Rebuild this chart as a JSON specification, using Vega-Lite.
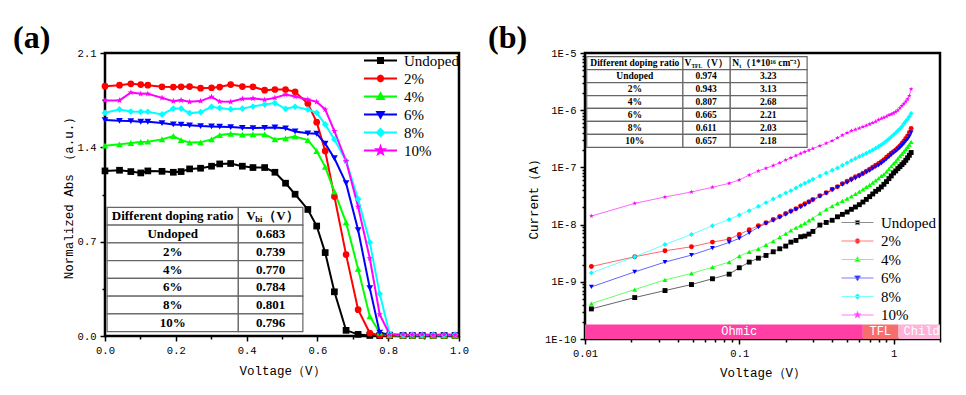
{
"$schema": "https://vega.github.io/schema/vega-lite/v6.json",
"background": "white",
"padding": {"left": 11, "top": 20, "right": 5, "bottom": 5},
"spacing": 126,
"bounds": "flush",
"datasets": {
"a": [
{"V":0,"Undoped":1.225,"2%":1.854,"4%":1.412,"6%":1.602,"8%":1.656,"10%":1.748},
{"V":0.041,"Undoped":1.23,"2%":1.861,"4%":1.422,"6%":1.597,"8%":1.681,"10%":1.748},
{"V":0.073,"Undoped":1.22,"2%":1.871,"4%":1.432,"6%":1.595,"8%":1.666,"10%":1.807},
{"V":0.101,"Undoped":1.21,"2%":1.866,"4%":1.44,"6%":1.59,"8%":1.664,"10%":1.797},
{"V":0.121,"Undoped":1.225,"2%":1.861,"4%":1.442,"6%":1.59,"8%":1.664,"10%":1.797},
{"V":0.161,"Undoped":1.222,"2%":1.849,"4%":1.459,"6%":1.58,"8%":1.644,"10%":1.767},
{"V":0.193,"Undoped":1.215,"2%":1.847,"4%":1.484,"6%":1.57,"8%":1.688,"10%":1.743},
{"V":0.215,"Undoped":1.22,"2%":1.849,"4%":1.454,"6%":1.568,"8%":1.688,"10%":1.75},
{"V":0.239,"Undoped":1.24,"2%":1.851,"4%":1.435,"6%":1.563,"8%":1.654,"10%":1.738},
{"V":0.27,"Undoped":1.245,"2%":1.839,"4%":1.437,"6%":1.558,"8%":1.661,"10%":1.743},
{"V":0.301,"Undoped":1.26,"2%":1.842,"4%":1.459,"6%":1.555,"8%":1.701,"10%":1.775},
{"V":0.324,"Undoped":1.277,"2%":1.847,"4%":1.491,"6%":1.553,"8%":1.691,"10%":1.74},
{"V":0.355,"Undoped":1.28,"2%":1.866,"4%":1.501,"6%":1.55,"8%":1.683,"10%":1.738},
{"V":0.388,"Undoped":1.26,"2%":1.851,"4%":1.494,"6%":1.545,"8%":1.688,"10%":1.76},
{"V":0.418,"Undoped":1.25,"2%":1.849,"4%":1.496,"6%":1.543,"8%":1.703,"10%":1.763},
{"V":0.451,"Undoped":1.25,"2%":1.824,"4%":1.496,"6%":1.545,"8%":1.718,"10%":1.753},
{"V":0.48,"Undoped":1.215,"2%":1.829,"4%":1.459,"6%":1.548,"8%":1.728,"10%":1.767},
{"V":0.51,"Undoped":1.134,"2%":1.829,"4%":1.467,"6%":1.541,"8%":1.686,"10%":1.792},
{"V":0.537,"Undoped":1.052,"2%":1.812,"4%":1.481,"6%":1.518,"8%":1.701,"10%":1.777},
{"V":0.573,"Undoped":0.939,"2%":1.725,"4%":1.454,"6%":1.504,"8%":1.681,"10%":1.755},
{"V":0.598,"Undoped":0.816,"2%":1.587,"4%":1.373,"6%":1.501,"8%":1.656,"10%":1.738},
{"V":0.622,"Undoped":0.619,"2%":1.373,"4%":1.255,"6%":1.427,"8%":1.57,"10%":1.681},
{"V":0.648,"Undoped":0.328,"2%":1.035,"4%":1.072,"6%":1.319,"8%":1.459,"10%":1.521},
{"V":0.681,"Undoped":0.042,"2%":0.604,"4%":0.843,"6%":1.134,"8%":1.299,"10%":1.299},
{"V":0.715,"Undoped":0.012,"2%":0.195,"4%":0.498,"6%":0.786,"8%":1.016,"10%":0.959},
{"V":0.748,"Undoped":0.004,"2%":0.022,"4%":0.145,"6%":0.355,"8%":0.695,"10%":0.577},
{"V":0.776,"Undoped":0.003,"2%":0.005,"4%":0.025,"6%":0.025,"8%":0.313,"10%":0.16},
{"V":0.804,"Undoped":0.003,"2%":0.003,"4%":0.005,"6%":0.01,"8%":0.017,"10%":0.012},
{"V":0.842,"Undoped":0.003,"2%":0.003,"4%":0.003,"6%":0.004,"8%":0.008,"10%":0.011},
{"V":0.868,"Undoped":0.003,"2%":0.003,"4%":0.003,"6%":0.004,"8%":0.011,"10%":0.008},
{"V":0.896,"Undoped":0.003,"2%":0.003,"4%":0.003,"6%":0.004,"8%":0.008,"10%":0.011},
{"V":0.927,"Undoped":0.003,"2%":0.003,"4%":0.003,"6%":0.004,"8%":0.011,"10%":0.008},
{"V":0.958,"Undoped":0.003,"2%":0.003,"4%":0.003,"6%":0.004,"8%":0.008,"10%":0.011},
{"V":0.989,"Undoped":0.003,"2%":0.003,"4%":0.003,"6%":0.004,"8%":0.011,"10%":0.009}
],
"b": [
{"V":0.011,"Undoped":3.36e-10,"2%":1.85e-9,"4%":4.16e-10,"6%":8.15e-10,"8%":1.43e-9,"10%":1.41e-8},
{"V":0.021,"Undoped":5.30e-10,"2%":2.74e-9,"4%":7.32e-10,"6%":1.49e-9,"8%":2.74e-9,"10%":2.35e-8},
{"V":0.033,"Undoped":7.03e-10,"2%":3.48e-9,"4%":1.08e-9,"6%":2.21e-9,"8%":4.50e-9,"10%":3.04e-8},
{"V":0.049,"Undoped":8.96e-10,"2%":4.10e-9,"4%":1.40e-9,"6%":2.93e-9,"8%":6.73e-9,"10%":3.72e-8},
{"V":0.067,"Undoped":1.13e-9,"2%":4.94e-9,"4%":1.80e-9,"6%":3.88e-9,"8%":9.55e-9,"10%":4.49e-8},
{"V":0.086,"Undoped":1.36e-9,"2%":5.58e-9,"4%":2.21e-9,"6%":4.88e-9,"8%":1.23e-8,"10%":5.27e-8},
{"V":0.1,"Undoped":1.76e-9,"2%":6.73e-9,"4%":2.81e-9,"6%":5.73e-9,"8%":1.47e-8,"10%":6.03e-8},
{"V":0.116,"Undoped":2.21e-9,"2%":8.13e-9,"4%":3.35e-9,"6%":7.20e-9,"8%":1.75e-8,"10%":7.38e-8},
{"V":0.133,"Undoped":2.59e-9,"2%":9.55e-9,"4%":3.78e-9,"6%":9.05e-9,"8%":2.08e-8,"10%":8.67e-8},
{"V":0.149,"Undoped":2.89e-9,"2%":1.08e-8,"4%":4.44e-9,"6%":1.04e-8,"8%":2.42e-8,"10%":9.66e-8},
{"V":0.166,"Undoped":3.35e-9,"2%":1.23e-8,"4%":5.15e-9,"6%":1.17e-8,"8%":2.80e-8,"10%":1.08e-7},
{"V":0.183,"Undoped":3.78e-9,"2%":1.39e-8,"4%":6.05e-9,"6%":1.32e-8,"8%":3.16e-8,"10%":1.20e-7},
{"V":0.2,"Undoped":4.21e-9,"2%":1.57e-8,"4%":6.92e-9,"6%":1.49e-8,"8%":3.57e-8,"10%":1.35e-7},
{"V":0.216,"Undoped":4.94e-9,"2%":1.73e-8,"4%":7.91e-9,"6%":1.66e-8,"8%":3.92e-8,"10%":1.47e-7},
{"V":0.233,"Undoped":5.29e-9,"2%":1.90e-8,"4%":8.81e-9,"6%":1.82e-8,"8%":4.37e-8,"10%":1.61e-7},
{"V":0.25,"Undoped":6.13e-9,"2%":2.11e-8,"4%":9.68e-9,"6%":2.03e-8,"8%":4.86e-8,"10%":1.75e-7},
{"V":0.266,"Undoped":6.30e-9,"2%":2.32e-8,"4%":1.06e-8,"6%":2.20e-8,"8%":5.27e-8,"10%":1.87e-7},
{"V":0.283,"Undoped":6.83e-9,"2%":2.52e-8,"4%":1.19e-8,"6%":2.42e-8,"8%":5.71e-8,"10%":2.00e-7},
{"V":0.3,"Undoped":7.60e-9,"2%":2.76e-8,"4%":1.28e-8,"6%":2.66e-8,"8%":6.20e-8,"10%":2.14e-7},
{"V":0.333,"Undoped":9.81e-9,"2%":3.21e-8,"4%":1.57e-8,"6%":3.08e-8,"8%":7.09e-8,"10%":2.38e-7},
{"V":0.366,"Undoped":1.09e-8,"2%":3.62e-8,"4%":1.85e-8,"6%":3.52e-8,"8%":8.00e-8,"10%":2.65e-7},
{"V":0.4,"Undoped":1.19e-8,"2%":4.14e-8,"4%":2.11e-8,"6%":4.03e-8,"8%":8.91e-8,"10%":2.91e-7},
{"V":0.433,"Undoped":1.37e-8,"2%":4.61e-8,"4%":2.35e-8,"6%":4.49e-8,"8%":9.79e-8,"10%":3.28e-7},
{"V":0.466,"Undoped":1.51e-8,"2%":5.20e-8,"4%":2.59e-8,"6%":4.99e-8,"8%":1.09e-7,"10%":3.66e-7},
{"V":0.5,"Undoped":1.66e-8,"2%":5.71e-8,"4%":2.84e-8,"6%":5.42e-8,"8%":1.20e-7,"10%":4.02e-7},
{"V":0.533,"Undoped":1.85e-8,"2%":6.28e-8,"4%":3.12e-8,"6%":5.95e-8,"8%":1.32e-7,"10%":4.36e-7},
{"V":0.566,"Undoped":2.03e-8,"2%":6.90e-8,"4%":3.43e-8,"6%":6.45e-8,"8%":1.43e-7,"10%":4.60e-7},
{"V":0.6,"Undoped":2.23e-8,"2%":7.28e-8,"4%":3.77e-8,"6%":6.99e-8,"8%":1.55e-7,"10%":4.85e-7},
{"V":0.633,"Undoped":2.48e-8,"2%":7.89e-8,"4%":4.14e-8,"6%":7.58e-8,"8%":1.65e-7,"10%":5.12e-7},
{"V":0.666,"Undoped":2.76e-8,"2%":8.55e-8,"4%":4.55e-8,"6%":8.22e-8,"8%":1.77e-7,"10%":5.40e-7},
{"V":0.7,"Undoped":3.08e-8,"2%":9.27e-8,"4%":4.93e-8,"6%":8.79e-8,"8%":1.89e-7,"10%":5.70e-7},
{"V":0.733,"Undoped":3.43e-8,"2%":1.01e-7,"4%":5.42e-8,"6%":9.53e-8,"8%":2.02e-7,"10%":6.01e-7},
{"V":0.766,"Undoped":3.82e-8,"2%":1.09e-7,"4%":5.95e-8,"6%":1.02e-7,"8%":2.16e-7,"10%":6.35e-7},
{"V":0.8,"Undoped":4.14e-8,"2%":1.17e-7,"4%":6.45e-8,"6%":1.09e-7,"8%":2.32e-7,"10%":6.79e-7},
{"V":0.833,"Undoped":4.55e-8,"2%":1.26e-7,"4%":7.09e-8,"6%":1.18e-7,"8%":2.48e-7,"10%":7.16e-7},
{"V":0.866,"Undoped":5.07e-8,"2%":1.37e-7,"4%":7.58e-8,"6%":1.28e-7,"8%":2.68e-7,"10%":7.46e-7},
{"V":0.9,"Undoped":5.64e-8,"2%":1.51e-7,"4%":8.44e-8,"6%":1.39e-7,"8%":2.91e-7,"10%":7.77e-7},
{"V":0.933,"Undoped":6.36e-8,"2%":1.63e-7,"4%":9.40e-8,"6%":1.51e-7,"8%":3.15e-7,"10%":8.20e-7},
{"V":0.966,"Undoped":7.09e-8,"2%":1.77e-7,"4%":1.05e-7,"6%":1.65e-7,"8%":3.42e-7,"10%":8.53e-7},
{"V":1.0,"Undoped":8.00e-8,"2%":1.89e-7,"4%":1.17e-7,"6%":1.79e-7,"8%":3.71e-7,"10%":8.88e-7},
{"V":1.033,"Undoped":8.67e-8,"2%":2.02e-7,"4%":1.28e-7,"6%":1.92e-7,"8%":4.02e-7,"10%":9.38e-7},
{"V":1.066,"Undoped":9.53e-8,"2%":2.19e-7,"4%":1.43e-7,"6%":2.08e-7,"8%":4.36e-7,"10%":1.00e-6},
{"V":1.1,"Undoped":1.03e-7,"2%":2.38e-7,"4%":1.57e-7,"6%":2.22e-7,"8%":4.72e-7,"10%":1.09e-6},
{"V":1.133,"Undoped":1.12e-7,"2%":2.61e-7,"4%":1.72e-7,"6%":2.41e-7,"8%":5.19e-7,"10%":1.19e-6},
{"V":1.166,"Undoped":1.21e-7,"2%":2.87e-7,"4%":1.89e-7,"6%":2.61e-7,"8%":5.78e-7,"10%":1.30e-6},
{"V":1.2,"Undoped":1.33e-7,"2%":3.20e-7,"4%":2.08e-7,"6%":2.87e-7,"8%":6.43e-7,"10%":1.42e-6},
{"V":1.233,"Undoped":1.47e-7,"2%":3.56e-7,"4%":2.28e-7,"6%":3.11e-7,"8%":6.97e-7,"10%":1.56e-6},
{"V":1.266,"Undoped":1.63e-7,"2%":4.07e-7,"4%":2.51e-7,"6%":3.47e-7,"8%":7.77e-7,"10%":1.79e-6},
{"V":1.3,"Undoped":1.82e-7,"2%":4.79e-7,"4%":2.80e-7,"6%":4.07e-7,"8%":8.77e-7,"10%":2.34e-6}
],
"tabA": [
{"r":"h","c1":"Different doping ratio","c2":""},
{"r":"Undoped","c1":"Undoped","c2":"0.683"},
{"r":"2%","c1":"2%","c2":"0.739"},
{"r":"4%","c1":"4%","c2":"0.770"},
{"r":"6%","c1":"6%","c2":"0.784"},
{"r":"8%","c1":"8%","c2":"0.801"},
{"r":"10%","c1":"10%","c2":"0.796"}
],
"tabB": [
{"r":"h","c1":"Different doping ratio","c2":"","c3":""},
{"r":"Undoped","c1":"Undoped","c2":"0.974","c3":"3.23"},
{"r":"2%","c1":"2%","c2":"0.943","c3":"3.13"},
{"r":"4%","c1":"4%","c2":"0.807","c3":"2.68"},
{"r":"6%","c1":"6%","c2":"0.665","c3":"2.21"},
{"r":"8%","c1":"8%","c2":"0.611","c3":"2.03"},
{"r":"10%","c1":"10%","c2":"0.657","c3":"2.18"}
],
"bands": [
{"region":"Ohmic","x0":0.01,"x1":0.632,"lx":0.1},
{"region":"TFL","x0":0.632,"x1":1.077,"lx":0.82},
{"region":"Child","x0":1.077,"x1":2,"lx":1.52}
]
},
"hconcat": [
{
"width": 354, "height": 283,
"title": {"text": "(a)", "anchor": "start", "frame": "group", "dx": -92, "offset": -32, "baseline": "alphabetic", "font": "Liberation Serif", "fontSize": 32, "fontWeight": "bold", "color": "black"},
"layer": [
{
"layer": [
{
"data": {"name": "a"},
"transform": [{"fold": ["Undoped","2%","4%","6%","8%","10%"], "as": ["series","abs"]}],
"mark": {"type": "line", "strokeWidth": 2},
"encoding": {
"x": {"field": "V", "type": "quantitative", "scale": {"domain": [0,1], "nice": false}, "axis": {"title": "Voltage（V）", "orient": "bottom", "values": [0,0.2,0.4,0.6,0.8,1.0], "format": ".1f", "titlePadding": 9}},
"y": {"field": "abs", "type": "quantitative", "scale": {"domain": [0,2.1], "nice": false}, "axis": {"title": "Normalized Abs （a.u.）", "orient": "left", "values": [0,0.7,1.4,2.1], "format": ".1f", "titlePadding": 2}},
"color": {"field": "series", "type": "nominal", "scale": {"domain": ["Undoped","2%","4%","6%","8%","10%"], "range": ["#000000","#ff0000","#00ff00","#0000ff","#00ffff","#ff00ff"]}, "legend": null}
}
},
{
"data": {"values": []},
"mark": {"type": "point"},
"encoding": {
"x": {"field": "V", "type": "quantitative", "scale": {"domain": [0,1], "nice": false}, "axis": {"orient": "bottom", "values": [0.1,0.3,0.5,0.7,0.9], "labels": false, "title": null, "tickSize": 3}},
"y": {"field": "abs", "type": "quantitative", "scale": {"domain": [0,2.1], "nice": false}, "axis": {"orient": "left", "values": [0.35,1.05,1.75], "labels": false, "title": null, "tickSize": 3}}
}
},
{
"data": {"name": "a"},
"transform": [{"fold": ["Undoped","2%","4%","6%","8%","10%"], "as": ["series","abs"]}],
"mark": {"type": "point", "filled": true, "opacity": 1, "size": 45},
"encoding": {
"x": {"field": "V", "type": "quantitative", "scale": {"domain": [0,1], "nice": false}, "axis": null},
"y": {"field": "abs", "type": "quantitative", "scale": {"domain": [0,2.1], "nice": false}, "axis": null},
"color": {"field": "series", "type": "nominal", "scale": {"domain": ["Undoped","2%","4%","6%","8%","10%"], "range": ["#000000","#ff0000","#00ff00","#0000ff","#00ffff","#ff00ff"]}, "legend": null},
"shape": {"field": "series", "type": "nominal", "scale": {"domain": ["Undoped","2%","4%","6%","8%","10%"], "range": ["square","circle","triangle-up","triangle-down","diamond","M0,-1L0.235,-0.324L0.951,-0.309L0.38,0.124L0.588,0.809L0,0.4L-0.588,0.809L-0.38,0.124L-0.951,-0.309L-0.235,-0.324Z"]}, "legend": null}
}
},
{
"data": {"values": []},
"mark": {"type": "point", "filled": true, "opacity": 1, "strokeWidth": 2},
"encoding": {
"shape": {"field": "series", "type": "nominal", "scale": {"domain": ["Undoped","2%","4%","6%","8%","10%"], "range": ["M-1,0H1M-0.15,-0.15H0.15V0.15H-0.15Z","M-1,0H1M-0.17,0L-0.12,-0.12L0,-0.17L0.12,-0.12L0.17,0L0.12,0.12L0,0.17L-0.12,0.12Z","M-1,0H1M0,-0.2L0.2,0.15H-0.2Z","M-1,0H1M0,0.2L0.2,-0.15H-0.2Z","M-1,0H1M0,-0.22L0.22,0L0,0.22L-0.22,0Z","M-1,0H1M0,-0.24L0.056,-0.078L0.228,-0.074L0.091,0.03L0.141,0.194L0,0.096L-0.141,0.194L-0.091,0.03L-0.228,-0.074L-0.056,-0.078Z"]}, "legend": {"title": null, "orient": "none", "legendX": 258, "legendY": 0, "symbolSize": 1089, "symbolStrokeWidth": 2, "clipHeight": 15, "labelFont": "Liberation Serif", "labelFontSize": 15, "labelColor": "black", "labelOffset": 6, "rowPadding": 2, "padding": 0, "symbolOpacity": 1}},
"fill": {"field": "series", "type": "nominal", "scale": {"domain": ["Undoped","2%","4%","6%","8%","10%"], "range": ["#000000","#ff0000","#00ff00","#0000ff","#00ffff","#ff00ff"]}, "legend": {"title": null, "orient": "none", "legendX": 258, "legendY": 0, "symbolSize": 1089, "symbolStrokeWidth": 2, "clipHeight": 15, "labelFont": "Liberation Serif", "labelFontSize": 15, "labelColor": "black", "labelOffset": 6, "rowPadding": 2, "padding": 0, "symbolOpacity": 1}},
"stroke": {"field": "series", "type": "nominal", "scale": {"domain": ["Undoped","2%","4%","6%","8%","10%"], "range": ["#000000","#ff0000","#00ff00","#0000ff","#00ffff","#ff00ff"]}, "legend": {"title": null, "orient": "none", "legendX": 258, "legendY": 0, "symbolSize": 1089, "symbolStrokeWidth": 2, "clipHeight": 15, "labelFont": "Liberation Serif", "labelFontSize": 15, "labelColor": "black", "labelOffset": 6, "rowPadding": 2, "padding": 0, "symbolOpacity": 1}}
}
}
],
"resolve": {"scale": {"shape": "independent", "fill": "independent", "stroke": "independent"}, "legend": {"shape": "independent", "fill": "independent", "stroke": "independent"}, "axis": {"x": "independent", "y": "independent"}}
},
{
"data": {"name": "tabA"},
"encoding": {
"y": {"field": "r", "type": "nominal", "scale": {"domain": ["h","Undoped","2%","4%","6%","8%","10%"], "range": [154.3, 278.7], "paddingInner": 0, "paddingOuter": 0}, "axis": null}
},
"layer": [
{"mark": {"type": "rect", "fill": "white", "stroke": "#666666", "strokeWidth": 1.2}, "encoding": {"x": {"datum": 0.006, "type": "quantitative", "scale": {"domain": [0,1], "nice": false}, "axis": null}, "x2": {"datum": 0.3766}}},
{"mark": {"type": "rect", "fill": "white", "stroke": "#666666", "strokeWidth": 1.2}, "encoding": {"x": {"datum": 0.3766, "type": "quantitative", "scale": {"domain": [0,1], "nice": false}, "axis": null}, "x2": {"datum": 0.559}}},
{"mark": {"type": "text", "font": "Liberation Serif", "fontWeight": "bold", "fontSize": 13, "color": "black", "baseline": "middle"}, "encoding": {"x": {"datum": 0.1912, "type": "quantitative", "scale": {"domain": [0,1], "nice": false}, "axis": null}, "text": {"field": "c1"}}},
{"mark": {"type": "text", "font": "Liberation Serif", "fontWeight": "bold", "fontSize": 13, "color": "black", "baseline": "middle"}, "encoding": {"x": {"datum": 0.468, "type": "quantitative", "scale": {"domain": [0,1], "nice": false}, "axis": null}, "text": {"field": "c2"}}},
{"transform": [{"filter": "datum.r === 'h'"}], "mark": {"type": "text", "text": "V", "align": "left", "dx": 8, "font": "Liberation Serif", "fontWeight": "bold", "fontSize": 13, "color": "black", "baseline": "middle"}, "encoding": {"x": {"datum": 0.3766, "type": "quantitative", "scale": {"domain": [0,1], "nice": false}, "axis": null}}},
{"transform": [{"filter": "datum.r === 'h'"}], "mark": {"type": "text", "text": "bi", "align": "left", "dx": 17, "dy": 3, "font": "Liberation Serif", "fontWeight": "bold", "fontSize": 8.5, "color": "black", "baseline": "middle"}, "encoding": {"x": {"datum": 0.3766, "type": "quantitative", "scale": {"domain": [0,1], "nice": false}, "axis": null}}},
{"transform": [{"filter": "datum.r === 'h'"}], "mark": {"type": "text", "text": "（V）", "align": "left", "dx": 25, "font": "Liberation Serif", "fontWeight": "bold", "fontSize": 13, "color": "black", "baseline": "middle"}, "encoding": {"x": {"datum": 0.3766, "type": "quantitative", "scale": {"domain": [0,1], "nice": false}, "axis": null}}}
]
}
],
"resolve": {"scale": {"y": "independent"}}
},
{
"width": 355, "height": 286,
"title": {"text": "(b)", "anchor": "start", "frame": "group", "dx": -97, "offset": -32, "baseline": "alphabetic", "font": "Liberation Serif", "fontSize": 32, "fontWeight": "bold", "color": "black"},
"layer": [
{
"layer": [
{
"data": {"name": "bands"},
"mark": {"type": "rect"},
"encoding": {
"x": {"field": "x0", "type": "quantitative", "scale": {"type": "log", "domain": [0.01, 2], "nice": false}, "axis": null},
"x2": {"field": "x1"},
"y": {"datum": 1e-10, "type": "quantitative", "scale": {"type": "log", "domain": [1e-10, 1e-5], "nice": false}, "axis": null},
"y2": {"datum": 1.8e-10},
"color": {"condition": [{"test": "datum.region === 'Ohmic'", "value": "#ff3fa3"}, {"test": "datum.region === 'TFL'", "value": "#f66e6e"}], "value": "#ffb3da"}
}
},
{
"data": {"name": "bands"},
"mark": {"type": "text", "color": "white", "font": "Liberation Mono", "fontSize": 12, "baseline": "middle"},
"encoding": {
"x": {"field": "lx", "type": "quantitative", "scale": {"type": "log", "domain": [0.01, 2], "nice": false}, "axis": null},
"y": {"datum": 1.38e-10, "type": "quantitative", "scale": {"type": "log", "domain": [1e-10, 1e-5], "nice": false}, "axis": null},
"text": {"field": "region"}
}
},
{
"data": {"name": "b"},
"transform": [{"fold": ["Undoped","2%","4%","6%","8%","10%"], "as": ["series","cur"]}],
"mark": {"type": "line", "strokeWidth": 1, "opacity": 0.6},
"encoding": {
"x": {"field": "V", "type": "quantitative", "scale": {"type": "log", "domain": [0.01, 2], "nice": false}, "axis": {"title": "Voltage（V）", "orient": "bottom", "values": [0.01, 0.1, 1], "format": "~g", "titlePadding": 8}},
"y": {"field": "cur", "type": "quantitative", "scale": {"type": "log", "domain": [1e-10, 1e-5], "nice": false}, "axis": {"title": "Current（A）", "orient": "left", "values": [1e-10,1e-9,1e-8,1e-7,1e-6,1e-5], "labelExpr": "'1E-' + round(-log(datum.value)/LN10)", "titlePadding": 4}},
"color": {"field": "series", "type": "nominal", "scale": {"domain": ["Undoped","2%","4%","6%","8%","10%"], "range": ["#000000","#ff0000","#00ff00","#0000ff","#00ffff","#ff00ff"]}, "legend": null}
}
},
{
"data": {"values": []},
"mark": {"type": "point"},
"encoding": {
"x": {"field": "V", "type": "quantitative", "scale": {"type": "log", "domain": [0.01, 2], "nice": false}, "axis": {"orient": "bottom", "values": [0.02,0.03,0.04,0.05,0.06,0.07,0.08,0.09,0.2,0.3,0.4,0.5,0.6,0.7,0.8,0.9,2], "labels": false, "title": null, "tickSize": 3}},
"y": {"field": "cur", "type": "quantitative", "scale": {"type": "log", "domain": [1e-10, 1e-5], "nice": false}, "axis": {"orient": "left", "values": [2e-10,3e-10,4e-10,5e-10,6e-10,7e-10,8e-10,9e-10,2e-9,3e-9,4e-9,5e-9,6e-9,7e-9,8e-9,9e-9,2e-8,3e-8,4e-8,5e-8,6e-8,7e-8,8e-8,9e-8,2e-7,3e-7,4e-7,5e-7,6e-7,7e-7,8e-7,9e-7,2e-6,3e-6,4e-6,5e-6,6e-6,7e-6,8e-6,9e-6], "labels": false, "title": null, "tickSize": 3}}
}
},
{
"data": {"name": "b"},
"transform": [{"fold": ["Undoped","2%","4%","6%","8%","10%"], "as": ["series","cur"]}],
"mark": {"type": "point", "filled": true, "opacity": 1, "size": 24},
"encoding": {
"x": {"field": "V", "type": "quantitative", "scale": {"type": "log", "domain": [0.01, 2], "nice": false}, "axis": null},
"y": {"field": "cur", "type": "quantitative", "scale": {"type": "log", "domain": [1e-10, 1e-5], "nice": false}, "axis": null},
"color": {"field": "series", "type": "nominal", "scale": {"domain": ["Undoped","2%","4%","6%","8%","10%"], "range": ["#000000","#ff0000","#00ff00","#0000ff","#00ffff","#ff00ff"]}, "legend": null},
"shape": {"field": "series", "type": "nominal", "scale": {"domain": ["Undoped","2%","4%","6%","8%","10%"], "range": ["square","circle","triangle-up","triangle-down","diamond","M0,-1L0.235,-0.324L0.951,-0.309L0.38,0.124L0.588,0.809L0,0.4L-0.588,0.809L-0.38,0.124L-0.951,-0.309L-0.235,-0.324Z"]}, "legend": null}
}
},
{
"data": {"values": []},
"mark": {"type": "point", "filled": true, "opacity": 1, "strokeWidth": 1},
"encoding": {
"shape": {"field": "series", "type": "nominal", "scale": {"domain": ["Undoped","2%","4%","6%","8%","10%"], "range": ["M-1,0H1M-0.13,-0.13H0.13V0.13H-0.13Z","M-1,0H1M-0.15,0L-0.106,-0.106L0,-0.15L0.106,-0.106L0.15,0L0.106,0.106L0,0.15L-0.106,0.106Z","M-1,0H1M0,-0.18L0.18,0.13H-0.18Z","M-1,0H1M0,0.18L0.18,-0.13H-0.18Z","M-1,0H1M0,-0.19L0.19,0L0,0.19L-0.19,0Z","M-1,0H1M0,-0.22L0.052,-0.071L0.209,-0.068L0.084,0.027L0.129,0.178L0,0.088L-0.129,0.178L-0.084,0.027L-0.209,-0.068L-0.052,-0.071Z"]}, "legend": {"title": null, "orient": "none", "legendX": 256, "legendY": 162, "symbolSize": 1024, "symbolStrokeWidth": 1, "clipHeight": 15, "labelFont": "Liberation Serif", "labelFontSize": 15, "labelColor": "black", "labelOffset": 7, "rowPadding": 2.5, "padding": 0, "symbolOpacity": 1}},
"fill": {"field": "series", "type": "nominal", "scale": {"domain": ["Undoped","2%","4%","6%","8%","10%"], "range": ["#000000","#ff0000","#00ff00","#0000ff","#00ffff","#ff00ff"]}, "legend": {"title": null, "orient": "none", "legendX": 256, "legendY": 162, "symbolSize": 1024, "symbolStrokeWidth": 1, "clipHeight": 15, "labelFont": "Liberation Serif", "labelFontSize": 15, "labelColor": "black", "labelOffset": 7, "rowPadding": 2.5, "padding": 0, "symbolOpacity": 1}},
"stroke": {"field": "series", "type": "nominal", "scale": {"domain": ["Undoped","2%","4%","6%","8%","10%"], "range": ["#8c8c8c","#ff7a7a","#7aff7a","#7a7aff","#7affff","#ff7aff"]}, "legend": {"title": null, "orient": "none", "legendX": 256, "legendY": 162, "symbolSize": 1024, "symbolStrokeWidth": 1, "clipHeight": 15, "labelFont": "Liberation Serif", "labelFontSize": 15, "labelColor": "black", "labelOffset": 7, "rowPadding": 2.5, "padding": 0, "symbolOpacity": 1}}
}
}
],
"resolve": {"scale": {"shape": "independent", "fill": "independent", "stroke": "independent"}, "legend": {"shape": "independent", "fill": "independent", "stroke": "independent"}, "axis": {"x": "independent", "y": "independent"}}
},
{
"data": {"name": "tabB"},
"encoding": {
"y": {"field": "r", "type": "nominal", "scale": {"domain": ["h","Undoped","2%","4%","6%","8%","10%"], "range": [3.7, 94.3], "paddingInner": 0, "paddingOuter": 0}, "axis": null}
},
"layer": [
{"mark": {"type": "rect", "fill": "white", "stroke": "#666666", "strokeWidth": 1.2}, "encoding": {"x": {"datum": 0.01026, "type": "quantitative", "scale": {"type": "log", "domain": [0.01, 2], "nice": false}, "axis": null}, "x2": {"datum": 0.0431}}},
{"mark": {"type": "rect", "fill": "white", "stroke": "#666666", "strokeWidth": 1.2}, "encoding": {"x": {"datum": 0.0431, "type": "quantitative", "scale": {"type": "log", "domain": [0.01, 2], "nice": false}, "axis": null}, "x2": {"datum": 0.0874}}},
{"mark": {"type": "rect", "fill": "white", "stroke": "#666666", "strokeWidth": 1.2}, "encoding": {"x": {"datum": 0.0874, "type": "quantitative", "scale": {"type": "log", "domain": [0.01, 2], "nice": false}, "axis": null}, "x2": {"datum": 0.2752}}},
{"mark": {"type": "text", "font": "Liberation Serif", "fontWeight": "bold", "fontSize": 9.5, "color": "black", "baseline": "middle"}, "encoding": {"x": {"datum": 0.02104, "type": "quantitative", "scale": {"type": "log", "domain": [0.01, 2], "nice": false}, "axis": null}, "text": {"field": "c1"}}},
{"mark": {"type": "text", "font": "Liberation Serif", "fontWeight": "bold", "fontSize": 9.5, "color": "black", "baseline": "middle"}, "encoding": {"x": {"datum": 0.06101, "type": "quantitative", "scale": {"type": "log", "domain": [0.01, 2], "nice": false}, "axis": null}, "text": {"field": "c2"}}},
{"mark": {"type": "text", "font": "Liberation Serif", "fontWeight": "bold", "fontSize": 9.5, "color": "black", "baseline": "middle"}, "encoding": {"x": {"datum": 0.1542, "type": "quantitative", "scale": {"type": "log", "domain": [0.01, 2], "nice": false}, "axis": null}, "text": {"field": "c3"}}},
{"transform": [{"filter": "datum.r === 'h'"}], "mark": {"type": "text", "text": "V", "align": "left", "dx": 1.5, "font": "Liberation Serif", "fontWeight": "bold", "fontSize": 9.5, "color": "black", "baseline": "middle"}, "encoding": {"x": {"datum": 0.0431, "type": "quantitative", "scale": {"type": "log", "domain": [0.01, 2], "nice": false}, "axis": null}}},
{"transform": [{"filter": "datum.r === 'h'"}], "mark": {"type": "text", "text": "TFL", "align": "left", "dx": 8.5, "dy": 2.5, "font": "Liberation Serif", "fontWeight": "bold", "fontSize": 5.5, "color": "black", "baseline": "middle"}, "encoding": {"x": {"datum": 0.0431, "type": "quantitative", "scale": {"type": "log", "domain": [0.01, 2], "nice": false}, "axis": null}}},
{"transform": [{"filter": "datum.r === 'h'"}], "mark": {"type": "text", "text": "（V）", "align": "left", "dx": 18, "font": "Liberation Serif", "fontWeight": "bold", "fontSize": 9.5, "color": "black", "baseline": "middle"}, "encoding": {"x": {"datum": 0.0431, "type": "quantitative", "scale": {"type": "log", "domain": [0.01, 2], "nice": false}, "axis": null}}},
{"transform": [{"filter": "datum.r === 'h'"}], "mark": {"type": "text", "text": "N", "align": "left", "dx": 2, "font": "Liberation Serif", "fontWeight": "bold", "fontSize": 9.5, "color": "black", "baseline": "middle"}, "encoding": {"x": {"datum": 0.0874, "type": "quantitative", "scale": {"type": "log", "domain": [0.01, 2], "nice": false}, "axis": null}}},
{"transform": [{"filter": "datum.r === 'h'"}], "mark": {"type": "text", "text": "t", "align": "left", "dx": 9, "dy": 2.5, "font": "Liberation Serif", "fontWeight": "bold", "fontSize": 6, "color": "black", "baseline": "middle"}, "encoding": {"x": {"datum": 0.0874, "type": "quantitative", "scale": {"type": "log", "domain": [0.01, 2], "nice": false}, "axis": null}}},
{"transform": [{"filter": "datum.r === 'h'"}], "mark": {"type": "text", "text": "（1*10¹⁶ cm⁻³）", "align": "left", "dx": 11, "font": "Liberation Serif", "fontWeight": "bold", "fontSize": 9.5, "color": "black", "baseline": "middle"}, "encoding": {"x": {"datum": 0.0874, "type": "quantitative", "scale": {"type": "log", "domain": [0.01, 2], "nice": false}, "axis": null}}}
]
}
],
"resolve": {"scale": {"y": "independent"}}
}
],
"config": {
"view": {"stroke": "black", "strokeWidth": 2.5},
"axis": {"domain": false, "grid": false, "tickColor": "black", "tickWidth": 1.5, "tickSize": 5, "labelColor": "black", "labelFont": "Liberation Mono", "labelFontSize": 10.5, "titleFont": "Liberation Mono", "titleFontSize": 12.5, "titleFontWeight": "normal", "titleColor": "black", "labelFlush": false, "labelOverlap": false, "labelPadding": 4}
}
}
